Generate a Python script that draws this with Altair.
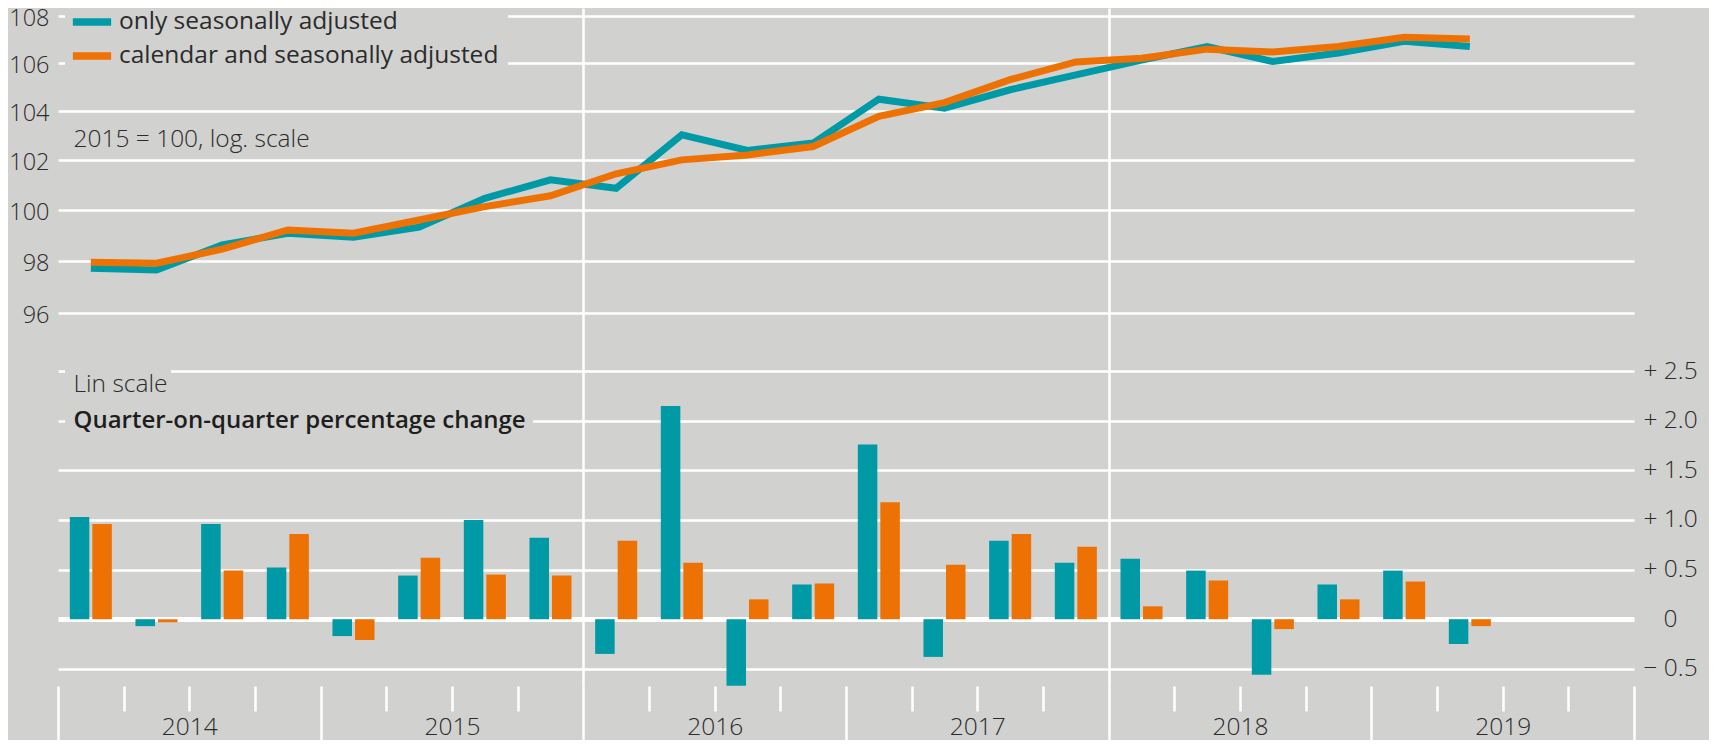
import altair as alt
import pandas as pd

# ---------------- data ----------------
quarters = ["2014Q1", "2014Q2", "2014Q3", "2014Q4",
            "2015Q1", "2015Q2", "2015Q3", "2015Q4",
            "2016Q1", "2016Q2", "2016Q3", "2016Q4",
            "2017Q1", "2017Q2", "2017Q3", "2017Q4",
            "2018Q1", "2018Q2", "2018Q3", "2018Q4",
            "2019Q1", "2019Q2"]
series_names = ["only seasonally adjusted", "calendar and seasonally adjusted"]

# index level, 2015 = 100 (log scale)
level_sa = [97.73, 97.66, 98.63, 99.09, 98.93, 99.33, 100.47, 101.21,
            100.87, 103.03, 102.39, 102.69, 104.49, 104.12, 104.88, 105.50,
            106.12, 106.69, 106.06, 106.42, 106.91, 106.69]
level_csa = [97.96, 97.92, 98.47, 99.22, 99.09, 99.61, 100.14, 100.57,
             101.45, 102.01, 102.21, 102.55, 103.78, 104.35, 105.30, 106.04,
             106.20, 106.58, 106.46, 106.69, 107.08, 107.01]

# quarter-on-quarter percentage change
chg_sa = [1.03, -0.07, 0.96, 0.52, -0.17, 0.44, 1.00, 0.82,
          -0.35, 2.15, -0.67, 0.35, 1.76, -0.38, 0.79, 0.57,
          0.61, 0.49, -0.56, 0.35, 0.49, -0.25]
chg_csa = [0.96, -0.03, 0.49, 0.86, -0.21, 0.62, 0.45, 0.44,
           0.79, 0.57, 0.20, 0.36, 1.18, 0.55, 0.86, 0.73,
           0.13, 0.39, -0.10, 0.20, 0.38, -0.07]

level_ticks = [96, 98, 100, 102, 104, 106, 108]
chg_ticks = [-0.5, 0, 0.5, 1.0, 1.5, 2.0, 2.5]
first_year, last_year = 2014, 2019

note_log = "2015 = 100, log. scale"
note_lin = "Lin scale"
note_qoq = "Quarter-on-quarter percentage change"

# ---------------- styling ----------------
BG = "#d1d1cf"
TEAL = "#009aa6"
ORANGE = "#ee7203"
FONT = "Open Sans"
TXT = "#2b2b2b"
FS = 24.5

rows = []
for i, q in enumerate(quarters):
    rows.append({"idx": i, "quarter": q, "s": 0, "series": series_names[0],
                 "level": level_sa[i], "chg": chg_sa[i]})
for i, q in enumerate(quarters):
    rows.append({"idx": i, "quarter": q, "s": 1, "series": series_names[1],
                 "level": level_csa[i], "chg": chg_csa[i]})
df = pd.DataFrame(rows)

quarter_bounds = [first_year + k / 4 for k in range(4 * (last_year - first_year + 1) + 1)]
year_mids = [y + 0.5 for y in range(first_year, last_year + 1)]

xscale = alt.Scale(domain=[first_year, last_year + 1], nice=False, zero=False)
color_scale = alt.Scale(domain=series_names, range=[TEAL, ORANGE])
legend = alt.Legend(
    orient="none", legendX=7, legendY=-13, title=None, direction="vertical",
    symbolType="M-1.277,0H1.277", symbolStrokeWidth=7.5, symbolSize=900,
    labelFontSize=FS, labelFont=FONT, labelColor=TXT, labelFontWeight=400,
    labelLimit=0, fillColor=BG, padding=8, labelOffset=8, rowPadding=0,
    strokeColor=BG, symbolOpacity=1,
)

base = alt.Chart(df).transform_calculate(
    qc="%d + (datum.idx + 0.5) / 4" % first_year
)

lines = base.mark_line(strokeWidth=7, strokeJoin="miter", strokeCap="butt").encode(
    x=alt.X("qc:Q", scale=xscale,
            axis=alt.Axis(orient="bottom", values=year_mids,
                          labelExpr="'' + floor(datum.value)",
                          ticks=False, tickSize=0, domain=False, grid=False,
                          labelFontSize=FS, labelFont=FONT, labelColor=TXT,
                          labelFontWeight=300,
                          labelBaseline="alphabetic", labelPadding=48,
                          labelFlush=False, labelOverlap=False, title=None)),
    y=alt.Y("level:Q",
            scale=alt.Scale(type="log", domain=[82.834, 108.3296], nice=False),
            axis=alt.Axis(orient="left", values=level_ticks, format="d",
                          grid=True, gridColor="white", gridWidth=2.5,
                          ticks=False, tickSize=0, domain=False,
                          labelPadding=9, labelOffset=2.5, labelFontSize=23.5,
                          labelFont=FONT, labelColor=TXT, labelFontWeight=300,
                          title=None)),
    color=alt.Color("series:N", scale=color_scale, legend=legend, sort=series_names),
)

bars = base.mark_bar().transform_calculate(
    x0="datum.qc + (datum.s == 0 ? -0.0800 : 0.0057)",
    x1="datum.qc + (datum.s == 0 ? -0.0057 : 0.0800)",
    zero="0",
).encode(
    x=alt.X("x0:Q", scale=xscale,
            axis=alt.Axis(orient="bottom", values=quarter_bounds, labels=False,
                          tickSize={"condition": {"test": "datum.value % 1 === 0", "value": 54}, "value": 25},
                          tickColor="white", tickWidth=2.5,
                          grid=True, gridColor="white", gridWidth=2.5,
                          gridOpacity={"condition": {"test": "datum.value === 2016 || datum.value === 2018", "value": 1}, "value": 0},
                          domain=False, title=None)),
    x2="x1:Q",
    y=alt.Y("chg:Q",
            scale=alt.Scale(domain=[-0.6734, 6.1613], nice=False, zero=False),
            axis=alt.Axis(orient="right", values=chg_ticks,
                          labelExpr="datum.value > 0 ? '+ ' + format(datum.value, '.1f') : (datum.value < 0 ? '\u2212 ' + format(-datum.value, '.1f') : '0')",
                          grid=True, gridColor="white",
                          gridWidth={"condition": {"test": "datum.value === 0", "value": 5}, "value": 2.5},
                          ticks=False, tickSize=0, domain=False, labelAlign="left",
                          labelPadding={"condition": {"test": "datum.value === 0", "value": 29}, "value": 9},
                          labelFontSize=FS, labelFont=FONT, labelColor=TXT,
                          labelFontWeight=300, title=None)),
    y2="zero:Q",
    color=alt.Color("series:N", scale=color_scale, legend=legend, sort=series_names),
)

one = pd.DataFrame({"k": [0]})
rect_lin = alt.Chart(one).mark_rect(color=BG).encode(
    x=alt.value(7), x2=alt.value(113), y=alt.value(357), y2=alt.value(390))
rect_qoq = alt.Chart(one).mark_rect(color=BG).encode(
    x=alt.value(7), x2=alt.value(475), y=alt.value(398), y2=alt.value(436))

t_log = alt.Chart(pd.DataFrame({"t": [note_log]})).mark_text(
    align="left", baseline="alphabetic", font=FONT, fontSize=FS, fontWeight=300, color=TXT
).encode(text="t:N", x=alt.value(15.5), y=alt.value(138.7))
t_lin = alt.Chart(pd.DataFrame({"t": [note_lin]})).mark_text(
    align="left", baseline="alphabetic", font=FONT, fontSize=FS, fontWeight=300, color=TXT
).encode(text="t:N", x=alt.value(15.5), y=alt.value(383.7))
t_qoq = alt.Chart(pd.DataFrame({"t": [note_qoq]})).mark_text(
    align="left", baseline="alphabetic", font=FONT, fontSize=24, fontWeight=600, color="#1e1e1e"
).encode(text="t:N", x=alt.value(15.5), y=alt.value(420))

chart = alt.layer(
    lines, bars, rect_lin, rect_qoq, t_log, t_lin, t_qoq
).resolve_scale(
    y="independent"
).resolve_axis(
    x="independent", y="independent"
).properties(
    width=1576, height=678, background=BG,
    padding={"left": 50, "top": 0, "right": 75, "bottom": 54},
    autosize=alt.AutoSizeParams(type="none"),
).configure_view(stroke=None)

chart.save("out.html", embed_options={"renderer": "svg", "actions": False})
